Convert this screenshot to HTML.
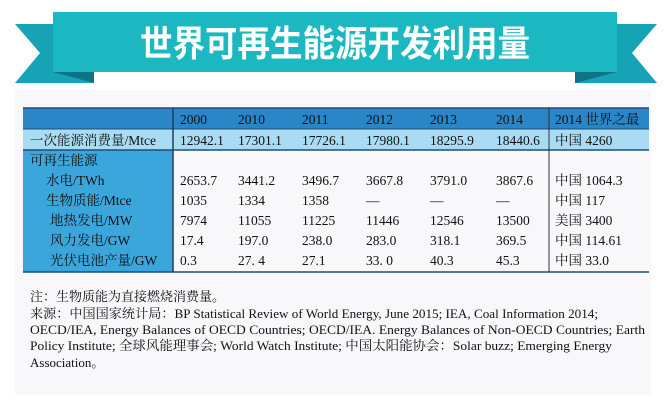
<!DOCTYPE html>
<html><head><meta charset="utf-8"><style>
html,body{margin:0;padding:0;background:#fff;width:668px;height:403px;overflow:hidden}
svg text{font-family:"Liberation Serif","Noto Serif CJK SC",serif;fill:#111}
</style></head><body>
<svg width="668" height="403" viewBox="0 0 668 403" xmlns="http://www.w3.org/2000/svg">
<rect x="15" y="90" width="636" height="305" fill="#f8f8fa"/>
<polygon points="15,24 94,24 94,83 15,83 40,53" fill="#17a3b6"/>
<polygon points="657,24 575,24 575,83 657,83 632,53" fill="#17a3b6"/>
<polygon points="53,72 94,72 94,83" fill="#0d7486"/>
<polygon points="617,72 575,72 575,83" fill="#0d7486"/>
<rect x="53" y="12" width="564" height="60" fill="#1bb8c2"/>
<text x="335" y="56" text-anchor="middle" font-size="36" font-weight="bold" style="font-family:'Noto Sans CJK SC',sans-serif;fill:#fff" textLength="390" lengthAdjust="spacingAndGlyphs">世界可再生能源开发利用量</text>
<rect x="23" y="108" width="626" height="21" fill="#2b86c7"/>
<rect x="23" y="129" width="626" height="21" fill="#a9dcf3"/>
<rect x="23" y="150" width="150" height="122" fill="#3ba6dc"/>
<line x1="23" y1="108" x2="649" y2="108" stroke="#1d4f78" stroke-width="1.5"/>
<line x1="23" y1="129" x2="649" y2="129" stroke="#1d4f78" stroke-width="1"/>
<line x1="23" y1="150" x2="649" y2="150" stroke="#1d4f78" stroke-width="1.5"/>
<line x1="23" y1="272" x2="649" y2="272" stroke="#1d4f78" stroke-width="1.5"/>
<line x1="173" y1="108" x2="173" y2="272" stroke="#1d3f60" stroke-width="1.5"/>
<line x1="549" y1="108" x2="549" y2="272" stroke="#333" stroke-width="1"/>
<g font-size="13.5">
<text x="180" y="124">2000</text><text x="238" y="124">2010</text><text x="302" y="124">2011</text><text x="366" y="124">2012</text><text x="430" y="124">2013</text><text x="496" y="124">2014</text><text x="555" y="124">2014 世界之最</text>
<text x="30" y="145">一次能源消费量/Mtce</text>
<text x="180" y="145">12942.1</text><text x="238" y="145">17301.1</text><text x="302" y="145">17726.1</text><text x="366" y="145">17980.1</text><text x="430" y="145">18295.9</text><text x="496" y="145">18440.6</text><text x="555" y="145">中国 4260</text>
<text x="30" y="165">可再生能源</text>
<text x="46" y="185">水电/TWh</text>
<text x="46" y="205">生物质能/Mtce</text>
<text x="50" y="225">地热发电/MW</text>
<text x="50" y="245">风力发电/GW</text>
<text x="50" y="265">光伏电池产量/GW</text>
<text x="180" y="185">2653.7</text><text x="238" y="185">3441.2</text><text x="302" y="185">3496.7</text><text x="366" y="185">3667.8</text><text x="430" y="185">3791.0</text><text x="496" y="185">3867.6</text><text x="555" y="185">中国 1064.3</text>
<text x="180" y="205">1035</text><text x="238" y="205">1334</text><text x="302" y="205">1358</text><text x="366" y="205">—</text><text x="430" y="205">—</text><text x="496" y="205">—</text><text x="555" y="205">中国 117</text>
<text x="180" y="225">7974</text><text x="238" y="225">11055</text><text x="302" y="225">11225</text><text x="366" y="225">11446</text><text x="430" y="225">12546</text><text x="496" y="225">13500</text><text x="555" y="225">美国 3400</text>
<text x="180" y="245">17.4</text><text x="238" y="245">197.0</text><text x="302" y="245">238.0</text><text x="366" y="245">283.0</text><text x="430" y="245">318.1</text><text x="496" y="245">369.5</text><text x="555" y="245">中国 114.61</text>
<text x="180" y="265">0.3</text><text x="238" y="265">27. 4</text><text x="302" y="265">27.1</text><text x="366" y="265">33.  0</text><text x="430" y="265">40.3</text><text x="496" y="265">45.3</text><text x="555" y="265">中国 33.0</text>
</g>
<g font-size="13">
<text x="30" y="301">注：生物质能为直接燃烧消费量。</text>
<text x="30" y="318" textLength="568" lengthAdjust="spacingAndGlyphs">来源：中国国家统计局：BP Statistical Review of World Energy, June 2015; IEA, Coal Information 2014;</text>
<text x="30" y="334" textLength="615" lengthAdjust="spacingAndGlyphs">OECD/IEA, Energy Balances of  OECD Countries; OECD/IEA. Energy Balances of Non-OECD Countries; Earth</text>
<text x="30" y="350" textLength="582" lengthAdjust="spacingAndGlyphs">Policy Institute; 全球风能理事会; World Watch Institute; 中国太阳能协会：Solar buzz; Emerging Energy</text>
<text x="30" y="367">Association。</text>
</g>
</svg>
</body></html>
